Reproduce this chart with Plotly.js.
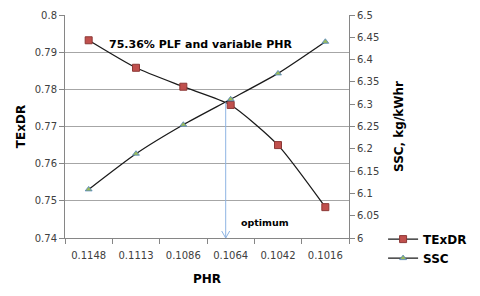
<!DOCTYPE html>
<html>
<head>
<meta charset="utf-8">
<script src="https://cdn.plot.ly/plotly-3.0.1.min.js"></script>
<style>html,body{margin:0;padding:0;background:#fff;}#chart{width:480px;height:296px;}</style>
</head>
<body>
<div id="chart"></div>
<script>
const categories = ["0.1148", "0.1113", "0.1086", "0.1064", "0.1042", "0.1016"];
const texdr = [0.7932, 0.7858, 0.7807, 0.7758, 0.7650, 0.7483];
const ssc = [6.109, 6.189, 6.254, 6.311, 6.369, 6.440];
const leftTicks = [0.74, 0.75, 0.76, 0.77, 0.78, 0.79, 0.8];
const rightTicks = [6, 6.05, 6.1, 6.15, 6.2, 6.25, 6.3, 6.35, 6.4, 6.45, 6.5];
const optimumIndex = 2.895;
const optimumTop = 0.7765;

const font = "DejaVu Sans, Verdana, sans-serif";
const traces = [
  {
    x: categories, y: texdr, name: "TExDR", type: "scatter", mode: "lines+markers",
    line: {color: "#1a1a1a", width: 1.3, shape: "spline", smoothing: 0.6},
    marker: {symbol: "square", size: 7, color: "#c0504d", line: {color: "#8c3836", width: 1}}
  },
  {
    x: categories, y: ssc, name: "SSC", type: "scatter", mode: "lines+markers", yaxis: "y2",
    line: {color: "#1a1a1a", width: 1.3, shape: "spline", smoothing: 0.6},
    marker: {symbol: "triangle-up", size: 6, color: "#9bbb59", line: {color: "#4f81bd", width: 0.8}}
  }
];
const layout = {
  width: 480, height: 296,
  margin: {l: 65, r: 131, t: 15, b: 58, autoexpand: false},
  paper_bgcolor: "#fff", plot_bgcolor: "#fff",
  font: {family: font, size: 10, color: "#404040"},
  showlegend: true,
  legend: {x: 1.12, y: 0.06, xanchor: "left", yanchor: "top", font: {family: font, size: 12, color: "#000", weight: "bold"}, tracegroupgap: 4, itemwidth: 30, bgcolor: "rgba(0,0,0,0)"},
  xaxis: {
    type: "category", categoryarray: categories, range: [-0.5, 5.5],
    showline: true, linecolor: "#868686", linewidth: 1,
    ticks: "outside", ticklen: 5, tickcolor: "#868686", tickson: "boundaries",
    ticklabelstandoff: 8, tickangle: 0,
    showgrid: false, zeroline: false,
    tickfont: {family: font, size: 10, color: "#404040"},
    title: {text: "PHR", font: {family: font, size: 12, color: "#000", weight: "bold"}, standoff: 14}
  },
  yaxis: {
    range: [0.74, 0.8], tickvals: leftTicks, ticktext: leftTicks.map(v => String(v)),
    showline: true, linecolor: "#868686", linewidth: 1,
    ticks: "outside", ticklen: 5, tickcolor: "#868686",
    showgrid: true, gridcolor: "#a6a6a6", gridwidth: 1, zeroline: false,
    tickfont: {family: font, size: 10, color: "#404040"},
    title: {text: "TExDR", font: {family: font, size: 12, color: "#000", weight: "bold"}, standoff: 6}
  },
  yaxis2: {
    overlaying: "y", side: "right", range: [6, 6.5], tickvals: rightTicks, ticktext: rightTicks.map(v => String(v)),
    showline: true, linecolor: "#868686", linewidth: 1,
    ticks: "outside", ticklen: 5, tickcolor: "#868686",
    showgrid: false, zeroline: false,
    tickfont: {family: font, size: 10, color: "#404040"},
    title: {text: "SSC, kg/kWhr", font: {family: font, size: 12, color: "#000", weight: "bold"}, standoff: 16}
  },
  shapes: [
    {type: "line", xref: "x", yref: "y", x0: optimumIndex, x1: optimumIndex, y0: optimumTop, y1: 0.74, line: {color: "#8eb4e3", width: 1}},
    {type: "path", xref: "x", yref: "y", xsizemode: "pixel", ysizemode: "pixel", xanchor: optimumIndex, yanchor: 0.74,
     path: "M -4 7 L 0 0 L 4 7", line: {color: "#8eb4e3", width: 1}}
  ],
  annotations: [
    {xref: "paper", yref: "paper", x: 0.148, y: 0.905, xanchor: "left", text: "<b>75.36% PLF and variable PHR</b>", showarrow: false,
     font: {family: font, size: 11, color: "#000"}},
    {xref: "x", yref: "y", x: 3.73, y: 0.7443, text: "<b>optimum</b>", showarrow: false,
     font: {family: font, size: 9.5, color: "#000"}}
  ]
};
Plotly.newPlot("chart", traces, layout, {displayModeBar: false, staticPlot: true});
</script>
</body>
</html>
